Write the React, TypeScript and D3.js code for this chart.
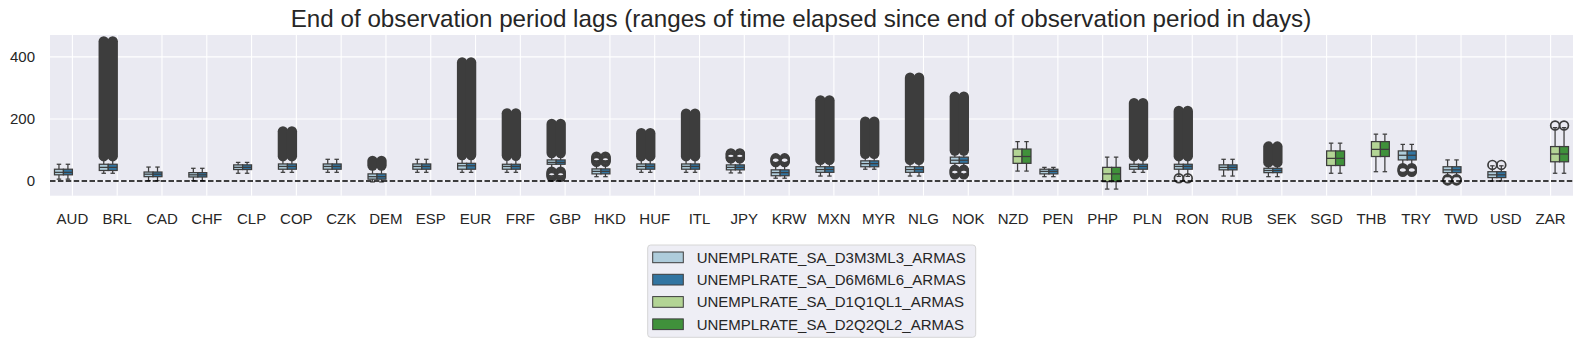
import React from "react";
import * as d3 from "d3";

const categories = ["AUD","BRL","CAD","CHF","CLP","COP","CZK","DEM","ESP","EUR","FRF","GBP","HKD","HUF","ITL","JPY","KRW","MXN","MYR","NLG","NOK","NZD","PEN","PHP","PLN","RON","RUB","SEK","SGD","THB","TRY","TWD","USD","ZAR"];
const quarterly = ["NZD","PHP","SGD","THB","ZAR"];
const seriesNames = ["UNEMPLRATE_SA_D3M3ML3_ARMAS","UNEMPLRATE_SA_D6M6ML6_ARMAS","UNEMPLRATE_SA_D1Q1QL1_ARMAS","UNEMPLRATE_SA_D2Q2QL2_ARMAS"];
const seriesColors = ["#aeccdb","#3275a1","#b3d495","#40913b"];

const whiskerLow  = [6, 25, 1, 1, 25, 28, 28, -3, 28, 28, 28, 40, 14, 28, 28, 26, 9, 16, 38, 16, 45, 32, 14, -26, 28, 15, 16, 14, 25, 30, 50, 14, 0, 25];
const q1          = [20, 34, 14, 13, 37, 38, 38, 6, 38, 38, 38, 54, 23, 38, 38, 36, 17, 28, 46, 28, 57, 57, 23, -2, 38, 38, 36, 27, 50, 79, 68, 27, 11, 62];
const median      = [28, 44, 22, 20, 44, 47, 47, 14, 47, 49, 47, 60, 31, 47, 47, 44, 27, 37, 56, 37, 67, 79, 31, 23, 47, 47, 44, 34, 73, 102, 83, 36, 20, 87];
const q3          = [38, 54, 29, 27, 52, 55, 55, 23, 55, 57, 54, 68, 39, 55, 55, 52, 36, 46, 65, 46, 77, 103, 38, 44, 54, 54, 52, 41, 97, 127, 97, 46, 30, 111];
const whiskerHigh = [54, 68, 45, 41, 60, 68, 70, 38, 70, 70, 68, 82, 52, 68, 68, 62, 50, 58, 78, 58, 88, 127, 44, 77, 68, 68, 70, 50, 122, 151, 118, 68, 49, 172];

// dense runs of outliers: [lowest, highest]
const flierRuns: (number[] | null)[] = [null, [80, 450], null, null, null, [80, 160], null, [50, 65], null, [84, 382], [82, 218], [90, 184], null, [80, 154], [80, 217], null, null, [68, 260], [88, 191], [68, 333], [98, 272], null, null, null, [80, 251], [80, 226], null, [60, 111], null, null, null, null, null, null];
// isolated outliers
const flierPoints: number[][] = [[], [], [], [], [], [], [], [], [], [], [], [14, 17, 20, 23, 26, 30], [62, 65, 68, 72, 75, 78], [], [], [73, 76, 79, 83, 86, 89], [61, 64, 67, 70, 73], [], [], [], [22, 25, 28, 31, 34, 36], [], [], [], [], [9], [], [], [], [], [30, 33, 35, 38, 41], [2, 4, 6], [52], [179]];

const yTicks = [0, 200, 400];

const W = 1584, H = 347;
const L = 50, R = 1573, T = 35, B = 195.7;
const EDGE = "#3d3d3d";
const FONT = "'Liberation Sans', Arial, sans-serif";

export default function App() {
  const x = d3.scaleLinear().domain([-0.5, categories.length - 0.5]).range([L, R]);
  const y = d3.scaleLinear().domain([-47.3, 470.5]).range([B, T]);
  const step = x(1) - x(0);
  const hueOffsets = [-0.3, -0.1, 0.1, 0.3];
  const bw = 0.2 * step;
  const capW = bw * 0.5;
  const r = 4.4;

  const boxes: React.ReactNode[] = [];
  const fliers: React.ReactNode[] = [];
  categories.forEach((c, i) => {
    const hues = quarterly.includes(c) ? [2, 3] : [0, 1];
    hues.forEach((h) => {
      const cx = x(i + hueOffsets[h]);
      const key = `${c}-${h}`;
      boxes.push(
        <g key={key}>
          <line x1={cx} x2={cx} y1={y(whiskerLow[i])} y2={y(q1[i])} stroke={EDGE} strokeWidth={1.25} />
          <line x1={cx} x2={cx} y1={y(q3[i])} y2={y(whiskerHigh[i])} stroke={EDGE} strokeWidth={1.25} />
          <line x1={cx - capW / 2} x2={cx + capW / 2} y1={y(whiskerLow[i])} y2={y(whiskerLow[i])} stroke={EDGE} strokeWidth={1.25} />
          <line x1={cx - capW / 2} x2={cx + capW / 2} y1={y(whiskerHigh[i])} y2={y(whiskerHigh[i])} stroke={EDGE} strokeWidth={1.25} />
          <rect x={cx - bw / 2} y={y(q3[i])} width={bw} height={y(q1[i]) - y(q3[i])} fill={seriesColors[h]} stroke={EDGE} strokeWidth={1.25} />
          <line x1={cx - bw / 2} x2={cx + bw / 2} y1={y(median[i])} y2={y(median[i])} stroke={EDGE} strokeWidth={1.25} />
        </g>
      );
      const run = flierRuns[i];
      if (run) {
        const top = y(run[1]) - r - 0.8;
        const bot = y(run[0]) + r + 0.8;
        fliers.push(
          <rect key={key + "run"} x={cx - r - 0.8} y={top} width={2 * r + 1.6} height={bot - top} rx={r + 0.8} ry={r + 0.8} fill={EDGE} />
        );
      }
      flierPoints[i].forEach((v, k) => {
        fliers.push(
          <circle key={key + "p" + k} cx={cx} cy={y(v)} r={r} fill="none" stroke={EDGE} strokeWidth={1.7} />
        );
      });
    });
  });

  const legendX = 647.7, legendY = 245, rowGap = 22.3;

  return (
    <svg width={W} height={H} style={{ position: "absolute", left: 0, top: 0, background: "#ffffff" }} fontFamily={FONT}>
      <rect x={0} y={0} width={W} height={H} fill="#ffffff" />
      <rect x={L} y={T} width={R - L} height={B - T} fill="#eaeaf2" />
      {yTicks.map((t) => (
        <line key={"gy" + t} x1={L} x2={R} y1={y(t)} y2={y(t)} stroke="#ffffff" strokeWidth={1.1} />
      ))}
      {categories.map((c, i) => (
        <line key={"gx" + c} x1={x(i)} x2={x(i)} y1={T} y2={B} stroke="#ffffff" strokeWidth={1.1} />
      ))}
      {boxes}
      {fliers}
      <line x1={L} x2={R} y1={y(0)} y2={y(0)} stroke="#000000" strokeWidth={1.5} strokeDasharray="5.5 2.4" />
      {yTicks.map((t) => (
        <text key={"ty" + t} x={35} y={y(t)} dy="0.36em" textAnchor="end" fontSize={15} fill="#262626">{t}</text>
      ))}
      {categories.map((c, i) => (
        <text key={"tx" + c} x={x(i)} y={224} textAnchor="middle" fontSize={15} fill="#262626">{c}</text>
      ))}
      <text x={801} y={27} textAnchor="middle" fontSize={24.2} fill="#262626">
        End of observation period lags (ranges of time elapsed since end of observation period in days)
      </text>
      <rect x={legendX} y={legendY} width={328} height={92.3} rx={3} fill="#eeeef5" stroke="#d6d6d6" strokeWidth={1} />
      {seriesNames.map((s, k) => {
        const cy = legendY + 12.3 + k * rowGap;
        return (
          <g key={"lg" + s}>
            <rect x={legendX + 5} y={cy - 5.3} width={30.6} height={10.7} fill={seriesColors[k]} stroke={EDGE} strokeWidth={1} />
            <text x={legendX + 49} y={cy} dy="0.36em" fontSize={15} fill="#262626">{s}</text>
          </g>
        );
      })}
    </svg>
  );
}
